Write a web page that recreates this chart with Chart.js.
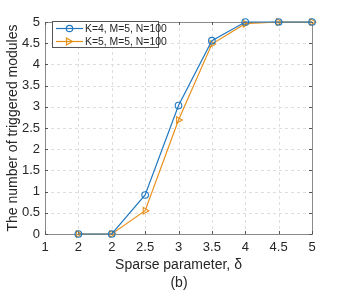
<!DOCTYPE html>
<html><head><meta charset="utf-8">
<script src="https://cdn.jsdelivr.net/npm/chart.js@4/dist/chart.umd.min.js"></script>
<style>html,body{margin:0;padding:0;background:#fff}#wrap{width:346px;height:293px}</style>
</head><body><div id="wrap"><canvas id="c" width="346" height="293"></canvas></div>
<script>
const deltaValues = [1.5, 2, 2.5, 3, 3.5, 4, 4.5, 5];
const seriesK4 = [0, 0, 0.92, 3.03, 4.56, 5, 5, 5];
const seriesK5 = [0, 0, 0.55, 2.69, 4.48, 4.96, 5, 5];
const xTickLabels = ["1", "2", "2", "2.5", "3", "3.5", "4", "4.5", "5"];
const yTickLabels = ["0", "0.5", "1", "1.5", "2", "2.5", "3", "3.5", "4", "4.5", "5"];
const seriesNames = ["K=4, M=5, N=100", "K=5, M=5, N=100"];
const colors = ["#1f78c1", "#e8901c"];
const FONT = "'Liberation Sans', Arial, sans-serif";
const frameColor = "#8a8a8a";
const textColor = "#262626";

const gridPlugin = {
  id: 'dashgrid',
  beforeDatasetsDraw(chart) {
    const ctx = chart.ctx, a = chart.chartArea;
    const xs = chart.scales.x, ys = chart.scales.y;
    ctx.save();
    ctx.strokeStyle = '#dedede'; ctx.lineWidth = 1; ctx.setLineDash([3, 3]);
    xs.ticks.forEach(t => {
      const px = Math.round(xs.getPixelForValue(t.value)) + 0.5;
      ctx.beginPath(); ctx.moveTo(px, a.top); ctx.lineTo(px, a.bottom); ctx.stroke();
    });
    ys.ticks.forEach(t => {
      const py = Math.round(ys.getPixelForValue(t.value)) + 0.5;
      ctx.beginPath(); ctx.moveTo(a.left, py); ctx.lineTo(a.right, py); ctx.stroke();
    });
    ctx.setLineDash([]);
    ctx.strokeStyle = frameColor;
    ctx.strokeRect(Math.round(a.left) + 0.5, Math.round(a.top) + 0.5, Math.round(a.right - a.left), Math.round(a.bottom - a.top));
    ctx.strokeStyle = "#555";
    const tl = 3;
    xs.ticks.forEach(t => {
      const px = Math.round(xs.getPixelForValue(t.value)) + 0.5;
      ctx.beginPath(); ctx.moveTo(px, a.bottom); ctx.lineTo(px, a.bottom - tl);
      ctx.moveTo(px, a.top); ctx.lineTo(px, a.top + tl); ctx.stroke();
    });
    ys.ticks.forEach(t => {
      const py = Math.round(ys.getPixelForValue(t.value)) + 0.5;
      ctx.beginPath(); ctx.moveTo(a.left, py); ctx.lineTo(a.left + tl, py);
      ctx.moveTo(a.right, py); ctx.lineTo(a.right - tl, py); ctx.stroke();
    });
    ctx.restore();
  }
};

const legendPlugin = {
  id: 'legendbox',
  afterDraw(chart) {
    const ctx = chart.ctx;
    ctx.save();
    const lx = 52.5, ly = 21.5, lw = 106, lh = 26;
    ctx.fillStyle = "#fff"; ctx.fillRect(lx, ly, lw, lh);
    ctx.strokeStyle = "#555"; ctx.lineWidth = 1; ctx.strokeRect(lx, ly, lw, lh);
    ctx.font = "10.4px " + FONT; ctx.textBaseline = "middle"; ctx.textAlign = "left";
    const rows = [28.5, 41.5];
    rows.forEach((ry, i) => {
      ctx.strokeStyle = colors[i]; ctx.lineWidth = 1.2;
      ctx.beginPath(); ctx.moveTo(56, ry); ctx.lineTo(83, ry); ctx.stroke();
      ctx.beginPath();
      if (i === 0) { ctx.arc(69.5, ry, 3.2, 0, Math.PI * 2); }
      else { ctx.moveTo(66.5, ry - 3.5); ctx.lineTo(72.5, ry); ctx.lineTo(66.5, ry + 3.5); ctx.closePath(); }
      ctx.stroke();
      ctx.fillStyle = textColor;
      ctx.fillText(seriesNames[i], 85, ry + 0.5);
    });
    ctx.font = "14px " + FONT; ctx.textAlign = "center"; ctx.fillStyle = textColor;
    ctx.fillText("(b)", 179, 283);
    ctx.restore();
  }
};

new Chart(document.getElementById('c'), {
  type: 'line',
  data: {
    datasets: [
      { label: seriesNames[0], data: deltaValues.map((x, i) => ({x, y: seriesK4[i]})), clip: false,
        borderColor: colors[0], backgroundColor: 'transparent', borderWidth: 1.2,
        pointStyle: 'circle', pointRadius: 3.3, pointBorderWidth: 1.1, pointBorderColor: colors[0], pointBackgroundColor: 'transparent' },
      { label: seriesNames[1], data: deltaValues.map((x, i) => ({x, y: seriesK5[i]})), clip: false,
        borderColor: colors[1], backgroundColor: 'transparent', borderWidth: 1.2,
        pointStyle: 'triangle', pointRotation: 90, pointRadius: 3.8, pointBorderWidth: 1.1, pointBorderColor: colors[1], pointBackgroundColor: 'transparent' }
    ]
  },
  options: {
    responsive: false, animation: false, devicePixelRatio: 1,
    layout: { padding: { left: 0, top: 22, right: 34, bottom: 19 } },
    plugins: { legend: { display: false }, tooltip: { enabled: false }, title: { display: false } },
    scales: {
      x: {
        type: 'linear', min: 1, max: 5,
        afterBuildTicks(s) { s.ticks = xTickLabels.map((_, i) => ({ value: 1 + 0.5 * i })); },
        afterFit(s) { s.height = 40; },
        ticks: { callback: (v, i) => xTickLabels[i], font: { family: FONT, size: 13 }, color: textColor, padding: 6, maxRotation: 0, autoSkip: false },
        grid: { display: false, drawTicks: false },
        border: { display: false },
        title: { display: true, text: 'Sparse parameter, δ', font: { family: FONT, size: 14 }, color: textColor, padding: { top: 0, bottom: 0 } }
      },
      y: {
        min: 0, max: 5,
        afterBuildTicks(s) { s.ticks = yTickLabels.map((_, i) => ({ value: 0.5 * i })); },
        ticks: { callback: (v, i) => yTickLabels[i], font: { family: FONT, size: 13 }, color: textColor, padding: 5, autoSkip: false },
        afterFit(s) { s.width = 45; },
        grid: { display: false, drawTicks: false },
        border: { display: false },
        title: { display: true, text: 'The number of triggered modules', font: { family: FONT, size: 14 }, color: textColor, padding: { top: 5, bottom: 0 } }
      }
    }
  },
  plugins: [gridPlugin, legendPlugin]
});
</script></body></html>
